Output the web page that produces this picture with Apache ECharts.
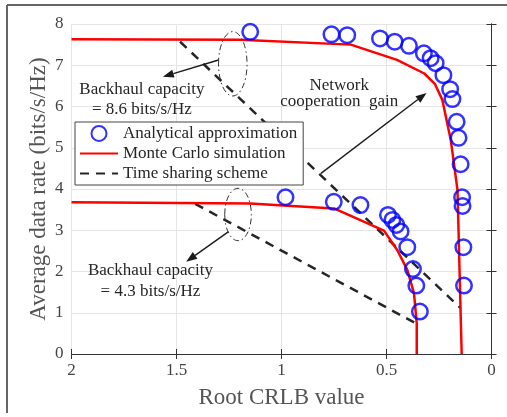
<!DOCTYPE html>
<html><head><meta charset="utf-8">
<script src="https://cdn.jsdelivr.net/npm/echarts@6/dist/echarts.min.js"></script>
<style>html,body{margin:0;padding:0;background:#fff}#c{width:507px;height:417px}</style>
</head><body><div id="c"></div>
<script>
// ---- data ----
const xTickLabels = ['2', '1.5', '1', '0.5', '0'];
const yTickLabels = ['0', '1', '2', '3', '4', '5', '6', '7', '8'];
const legendNames = ['Analytical approximation', 'Monte Carlo simulation', 'Time sharing scheme'];

// Analytical approximation, backhaul 8.6 bits/s/Hz  [root CRLB, rate]
const analyticHigh = [[1.149,7.81],[0.762,7.75],[0.687,7.73],[0.531,7.65],[0.461,7.57],[0.393,7.47],
  [0.322,7.29],[0.290,7.17],[0.266,7.05],[0.229,6.76],[0.197,6.42],[0.186,6.18],[0.166,5.63],
  [0.157,5.24],[0.147,4.60],[0.140,3.80],[0.138,3.59],[0.134,2.59],[0.131,1.66]];
// Analytical approximation, backhaul 4.3 bits/s/Hz
const analyticLow = [[0.981,3.80],[0.751,3.69],[0.624,3.61],[0.493,3.37],[0.472,3.25],[0.453,3.13],
  [0.433,2.97],[0.401,2.59],[0.374,2.06],[0.358,1.66],[0.341,1.03]];
// Monte Carlo simulation
const monteHigh = [[2,7.63],[1.2,7.62],[0.67,7.50],[0.45,7.13],[0.32,6.80],[0.27,6.55],[0.234,6.16],[0.194,5.19],[0.162,3.98],[0.142,0]];
const monteLow = [[2,3.68],[1.15,3.65],[0.75,3.53],[0.512,2.99],[0.449,2.52],[0.401,2.04],[0.369,1.47],[0.356,0.74],[0.356,0]];
// Time sharing scheme
const timeHigh = [[1.483,7.57],[0.147,1.11]];
const timeLow = [[1.411,3.64],[0.345,0.70]];

// annotations (data coordinates)
const textNotes = [
  {t: 'Backhaul capacity', p: [1.665, 6.417]},
  {t: '= 8.6 bits/s/Hz', p: [1.665, 5.93]},
  {t: 'Network', p: [0.725, 6.50]},
  {t: 'cooperation  gain', p: [0.725, 6.12]},
  {t: 'Backhaul capacity', p: [1.624, 2.02]},
  {t: '= 4.3 bits/s/Hz', p: [1.624, 1.51]}
];
const arrows = [
  {from: [1.300, 7.127], to: [1.565, 6.72]},
  {from: [0.812, 4.38], to: [0.309, 6.33]},
  {from: [1.252, 2.965], to: [1.454, 2.237]}
];
const ellipses = [
  {c: [1.232, 7.035], rx: 0.068, ry: 0.78},
  {c: [1.207, 3.382], rx: 0.0635, ry: 0.635}
];

// ---- chart ----
const FONT = 'Liberation Serif';
const chart = echarts.init(document.getElementById('c'), null, {renderer: 'canvas'});
const circleStyle = {color: 'rgba(0,0,0,0)', borderColor: '#0000ff', borderWidth: 2.5};
const tickLabel = (labels, min, step) => (v) => labels[Math.round((v - min) / step)] ?? '';
const noSymbol = {color: 'rgba(0,0,0,0)', borderWidth: 0, opacity: 0};

chart.setOption({
  animation: false,
  backgroundColor: '#fff',
  grid: {left: 71.5, right: 15.5, top: 24, bottom: 63},
  legend: {
    orient: 'vertical', left: 75, top: 122,
    data: [
      {name: legendNames[0]},
      {name: legendNames[1], itemStyle: noSymbol},
      {name: legendNames[2], itemStyle: noSymbol}
    ],
    backgroundColor: '#fff', borderColor: '#444', borderWidth: 1,
    padding: [3, 6, 3, 4], itemGap: 3, itemWidth: 38, itemHeight: 15,
    textStyle: {fontFamily: FONT, fontSize: 17, color: '#262626'}
  },
  xAxis: [{
    type: 'value', min: 0, max: 2, interval: 0.5, inverse: true, position: 'bottom',
    name: 'Root CRLB value', nameLocation: 'middle', nameGap: 32,
    nameTextStyle: {fontFamily: FONT, fontSize: 23, color: '#555'},
    axisLine: {lineStyle: {color: '#333', width: 1}},
    axisTick: {inside: true, length: 5, lineStyle: {color: '#333'}},
    axisLabel: {fontFamily: FONT, fontSize: 17, color: '#444', margin: 8,
      formatter: tickLabel(xTickLabels.slice().reverse(), 0, 0.5)},
    splitLine: {show: true, lineStyle: {color: '#e5e5e5', width: 1}}
  }, {
    type: 'value', min: 0, max: 2, interval: 0.5, inverse: true, position: 'top',
    axisLine: {show: true, lineStyle: {color: '#333', width: 1}},
    axisTick: {inside: true, length: 5, lineStyle: {color: '#333'}},
    axisLabel: {show: false}, splitLine: {show: false}
  }],
  yAxis: [{
    type: 'value', min: 0, max: 8, interval: 1, position: 'left',
    name: 'Average data rate (bits/s/Hz)', nameLocation: 'middle', nameGap: 21,
    nameMoveOverlap: false,
    nameTextStyle: {fontFamily: FONT, fontSize: 23, color: '#555'},
    axisLine: {show: true, lineStyle: {color: '#333', width: 1}},
    axisTick: {show: true, inside: true, length: 5, lineStyle: {color: '#333'}},
    axisLabel: {fontFamily: FONT, fontSize: 17, color: '#444', margin: 8,
      formatter: tickLabel(yTickLabels, 0, 1)},
    splitLine: {show: true, lineStyle: {color: '#e5e5e5', width: 1}}
  }, {
    type: 'value', min: 0, max: 8, interval: 1, position: 'right',
    axisLine: {show: true, lineStyle: {color: '#333', width: 1}},
    axisTick: {show: true, inside: true, length: 5, lineStyle: {color: '#333'}},
    axisLabel: {show: false}, splitLine: {show: false}
  }],
  series: [
    {name: legendNames[2], type: 'line', data: timeHigh, symbol: 'none', z: 2,
     lineStyle: {color: '#262626', width: 2.5, type: [9, 7]}, itemStyle: {color: '#262626'}},
    {name: legendNames[2], type: 'line', data: timeLow, symbol: 'none', z: 2,
     lineStyle: {color: '#262626', width: 2.5, type: [9, 7]}, itemStyle: {color: '#262626'}},
    {name: legendNames[1], type: 'line', data: monteHigh, symbol: 'none', z: 3,
     lineStyle: {color: '#ff0000', width: 2.5}, itemStyle: {color: '#ff0000'}},
    {name: legendNames[1], type: 'line', data: monteLow, symbol: 'none', z: 3,
     lineStyle: {color: '#ff0000', width: 2.5}, itemStyle: {color: '#ff0000'}},
    {name: legendNames[0], type: 'scatter', data: analyticHigh, symbol: 'circle', symbolSize: 15.5, z: 4,
     itemStyle: circleStyle},
    {name: legendNames[0], type: 'scatter', data: analyticLow, symbol: 'circle', symbolSize: 15.5, z: 4,
     itemStyle: circleStyle}
  ]
});

// ---- annotations placed through the chart's own coordinate conversion ----
const px = (p) => chart.convertToPixel({xAxisIndex: 0, yAxisIndex: 0}, p);
const g = [];
// figure frame (top and left edges)
g.push({type: 'line', shape: {x1: 7, y1: 5, x2: 507, y2: 5}, style: {stroke: '#666', lineWidth: 2}, z: 10});
g.push({type: 'line', shape: {x1: 7, y1: 5, x2: 7, y2: 413}, style: {stroke: '#666', lineWidth: 2}, z: 10});

textNotes.forEach(n => {
  const [x, y] = px(n.p);
  g.push({type: 'text', x: x, y: y, z: 20,
    style: {text: n.t, fontFamily: FONT, fontSize: 17, fill: '#262626', align: 'center', verticalAlign: 'middle'}});
});
arrows.forEach(a => {
  const [x1, y1] = px(a.from), [x2, y2] = px(a.to);
  const ang = Math.atan2(y2 - y1, x2 - x1), L = 11, W = 4;
  const bx = x2 - L * Math.cos(ang), by = y2 - L * Math.sin(ang);
  const nx = -Math.sin(ang) * W, ny = Math.cos(ang) * W;
  g.push({type: 'line', z: 20, shape: {x1: x1, y1: y1, x2: bx, y2: by}, style: {stroke: '#1a1a1a', lineWidth: 1.4}});
  g.push({type: 'polygon', z: 20, shape: {points: [[x2, y2], [bx + nx, by + ny], [bx - nx, by - ny]]},
    style: {fill: '#1a1a1a'}});
});
ellipses.forEach(e => {
  const [cx, cy] = px(e.c);
  const [ex] = px([e.c[0] - e.rx, e.c[1]]);
  const [, ey] = px([e.c[0], e.c[1] + e.ry]);
  g.push({type: 'ellipse', z: 20, shape: {cx: cx, cy: cy, rx: Math.abs(ex - cx), ry: Math.abs(cy - ey)},
    style: {fill: 'none', stroke: '#333', lineWidth: 1, lineDash: [6, 3, 1.5, 3]}});
});
chart.setOption({graphic: g});
</script>
</body></html>
